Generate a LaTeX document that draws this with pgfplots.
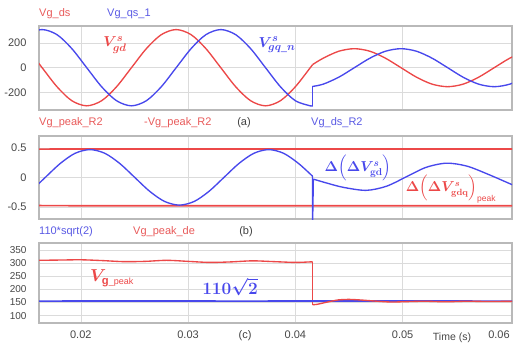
\documentclass[border=0pt]{standalone}
\usepackage{amsmath}
\usepackage{bm}
\usepackage{fontspec}
\setmainfont{Liberation Sans}
\usepackage{pgfplots}
\pgfplotsset{compat=1.18}
\definecolor{cred}{RGB}{236,72,72}
\definecolor{cblue}{RGB}{72,72,236}
\definecolor{lred}{RGB}{232,90,90}
\definecolor{lblue}{RGB}{90,90,228}
\definecolor{tickc}{RGB}{70,70,70}
\pgfplotsset{
 panel/.style={scale only axis, width=473pt, xmin=0.0161, xmax=0.0602,
  xtick={0.02,0.03,0.04,0.05}, grid=major,
  major grid style={draw=gray!28, line width=0.5pt},
  axis line style={draw=gray!55, line width=1.3pt}, major tick length=0pt,
  tick label style={font=\fontsize{11}{12}\selectfont, text=tickc},
  yticklabel style={xshift=-9pt}, xticklabel style={yshift=-4pt},
  scaled ticks=false, /pgf/number format/assume math mode=true,
 },
 rc/.style={color=cred, line width=1.35pt, mark=none},
 bc/.style={color=cblue, line width=1.35pt, mark=none},
 hl/.style={line width=1.7pt},
}
\newcommand{\peaksub}{\mbox{\fontsize{8.5}{8.5}\selectfont peak}}
\newcommand{\gpeaksub}{\mbox{\fontsize{9}{9}\selectfont \_peak}}
\begin{document}
\begin{tikzpicture}
\path[use as bounding box] (0,0) rectangle (514pt,-346pt);
% ---------- (a)
\begin{axis}[panel, at={(39pt,-26pt)}, anchor=north west, height=84pt,
  ymin=-345, ymax=340, ytick={-200,0,200}, yticklabels={-200,0,200}, xticklabels={}]
\addplot[rc, smooth] coordinates {(0.01361,269.3)(0.01500,155.5)(0.01639,0)(0.01778,-155.5)(0.01916,-269.3)(0.02055,-311)(0.02194,-269.3)(0.02333,-155.5)(0.02472,0)(0.02611,155.5)(0.02750,269.3)(0.02889,311)(0.03028,269.3)(0.03166,155.5)(0.03305,0)(0.03444,-155.5)(0.03583,-269.3)(0.03722,-311)(0.03861,-269.3)(0.04000,-155.5)(0.04139,0)(0.0416,25)};
\addplot[rc, smooth] coordinates {(0.0416,25)(0.04260,77.5)(0.04405,134.2)(0.04550,155)(0.04695,134.2)(0.04840,77.5)(0.04985,0)(0.05130,-77.5)(0.05275,-134.2)(0.05420,-155)(0.05564,-134.2)(0.05709,-77.5)(0.05854,0)(0.05999,77.5)(0.06144,134.2)};
\addplot[bc, smooth] coordinates {(0.01361,155.5)(0.01500,269.3)(0.01639,311)(0.01778,269.3)(0.01916,155.5)(0.02055,0)(0.02194,-155.5)(0.02333,-269.3)(0.02472,-311)(0.02611,-269.3)(0.02750,-155.5)(0.02889,0)(0.03028,155.5)(0.03166,269.3)(0.03305,311)(0.03444,269.3)(0.03583,155.5)(0.03722,0)(0.03861,-155.5)(0.04000,-269.3)(0.04139,-311)(0.0416,-310)};
\addplot[bc] coordinates {(0.0416,-310)(0.0416,-153)};
\addplot[bc, smooth] coordinates {(0.0416,-153)(0.04260,-134.2)(0.04405,-77.5)(0.04550,0)(0.04695,77.5)(0.04840,134.2)(0.04985,155)(0.05130,134.2)(0.05275,77.5)(0.05420,0)(0.05564,-77.5)(0.05709,-134.2)(0.05854,-155)(0.05999,-134.2)(0.06144,-77.5)};
\end{axis}
% ---------- (b)
\begin{axis}[panel, at={(39pt,-136pt)}, anchor=north west, height=83pt,
  ymin=-0.705, ymax=0.7, ytick={-0.5,0,0.5}, yticklabels={-0.5,0,0.5}, xticklabels={}]
\addplot[rc, hl] coordinates {(0.0161,0.478)(0.025,0.481)(0.035,0.479)(0.045,0.481)(0.0602,0.479)};
\addplot[rc, hl] coordinates {(0.0161,-0.478)(0.025,-0.481)(0.035,-0.479)(0.045,-0.481)(0.0602,-0.479)};
\addplot[bc, smooth] coordinates {(0.01391,-0.407)(0.01530,-0.235)(0.01669,0)(0.01808,0.235)(0.01946,0.407)(0.02085,0.47)(0.02224,0.407)(0.02363,0.235)(0.02502,0)(0.02641,-0.235)(0.02780,-0.407)(0.02919,-0.47)(0.03058,-0.407)(0.03196,-0.235)(0.03335,0)(0.03474,0.235)(0.03613,0.407)(0.03752,0.47)(0.03891,0.407)(0.04030,0.235)(0.0416,0.02)};
\addplot[bc] coordinates {(0.0416,0.02)(0.0416,-0.9)(0.04168,-0.03)};
\addplot[bc, smooth] coordinates {(0.04168,-0.03)(0.0430,-0.10)(0.0445,-0.17)(0.0466,-0.22)(0.0485,-0.15)(0.0504,0.014)(0.0522,0.17)(0.0541,0.24)(0.0560,0.19)(0.0580,0.05)(0.0603,-0.13)(0.0610,-0.17)};
\end{axis}
% ---------- (c)
\begin{axis}[panel, at={(39pt,-243pt)}, anchor=north west, height=80pt,
  ymin=72, ymax=377, ytick={100,150,...,350}, yticklabels={100,150,200,250,300,350},
  yticklabel style={font=\fontsize{10}{10}\selectfont},
  xticklabels={0.02,0.03,0.04,0.05}]
\addplot[rc, smooth] coordinates {(0.0155,310)(0.0161,311)(0.018,312)(0.020,313)(0.022,310)(0.024,306)(0.026,307)(0.028,311)(0.030,307)(0.032,303)(0.034,305)(0.036,309)(0.038,306)(0.040,303)(0.0414,305)(0.0416,305)};
\addplot[rc] coordinates {(0.0416,305)(0.0416,142)};
\addplot[bc, hl] coordinates {(0.0161,155.5)(0.025,155.6)(0.035,155.5)(0.045,155.6)(0.0602,155.5)};
\addplot[rc, smooth] coordinates {(0.0416,142)(0.0420,143)(0.0430,152)(0.0440,160)(0.0450,162)(0.0460,160)(0.0470,157)(0.0480,154)(0.0490,152)(0.0500,153)(0.0520,155)(0.0540,153)(0.0560,155)(0.0580,154)(0.0610,155)};
\end{axis}
% ---------- texts
\begin{scope}[every node/.style={font=\fontsize{11}{12}\selectfont, inner sep=0pt}]
\node[anchor=west, text=lred] at (39pt,-14pt) {Vg\_ds};
\node[anchor=west, text=lblue] at (107pt,-14pt) {Vg\_qs\_1};
\node[text=black!75] at (244pt,-123pt) {(a)};
\node[anchor=west, text=lred] at (39pt,-123pt) {Vg\_peak\_R2};
\node[anchor=west, text=lred] at (144pt,-123pt) {-Vg\_peak\_R2};
\node[anchor=west, text=lblue] at (311pt,-123pt) {Vg\_ds\_R2};
\node[anchor=west, text=lblue] at (39pt,-232pt) {110*sqrt(2)};
\node[anchor=west, text=lred] at (133pt,-232pt) {Vg\_peak\_de};
\node[text=black!75] at (246pt,-232pt) {(b)};
\node[text=black!75] at (245pt,-336pt) {(c)};
\node[text=tickc, font=\fontsize{10.5}{12}\selectfont] at (452pt,-338pt) {Time (s)};
\node[text=tickc] at (499pt,-335pt) {0.06};
\end{scope}
\begin{scope}[every node/.style={inner sep=0pt}]
\node[text=cred, font=\fontsize{15}{15}\selectfont] at (115pt,-45pt) {$\boldsymbol{V^{s}_{gd}}$};
\node[text=cblue, font=\fontsize{15}{15}\selectfont] at (277pt,-45pt) {$\boldsymbol{V^{s}_{gq\_n}}$};
\node[text=cblue, font=\fontsize{14}{14}\selectfont] at (358pt,-168pt) {$\boldsymbol{\Delta\Bigl(\Delta V^{s}_{\mathbf{gd}}\Bigr)}$};
\node[text=cred, font=\fontsize{13.5}{13.5}\selectfont] at (451pt,-189pt) {$\boldsymbol{\Delta\Bigl(\Delta V^{s}_{\mathbf{gdq}}\Bigr)}_{\peaksub}$};
\node[text=cred, font=\fontsize{16}{16}\selectfont] at (112pt,-278pt) {$\boldsymbol{V}_{\mathbf{g}\gpeaksub}$};
\node[text=cblue, font=\fontsize{19}{19}\selectfont] at (230pt,-287pt) {$\boldsymbol{110\sqrt{2}}$};
\end{scope}
\end{tikzpicture}
\end{document}
